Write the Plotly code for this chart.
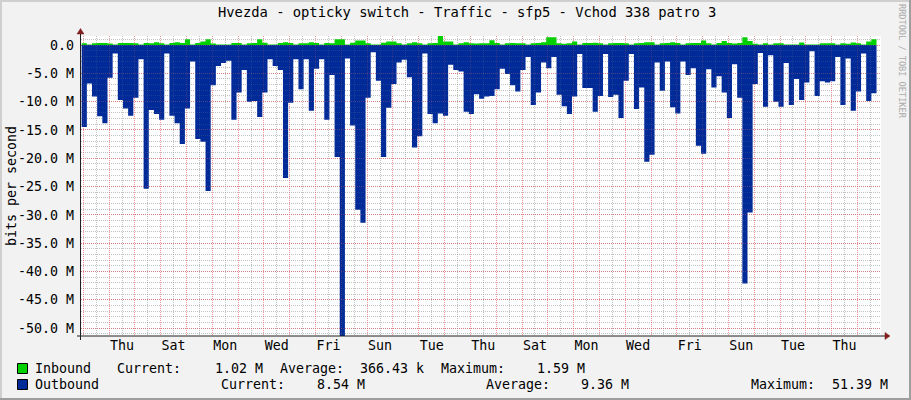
import pandas as pd
import plotly.graph_objects as go

# ---------------- data ----------------
TITLE = "Hvezda - opticky switch - Traffic - sfp5 - Vchod 338 patro 3"
Y_TITLE = "bits per second"
WATERMARK = "RRDTOOL / TOBI OETIKER"

first_bin_start = "2024-01-02 22:30"   # consolidated steps of 288 minutes
bin_minutes = 288
view_start = pd.Timestamp("2024-01-02 21:52")
view_days = 31

# outbound traffic, Mbit/s (drawn mirrored below zero)
outbound_mbps = [
    14.5, 6.8, 9.1, 12.6, 13.8, 5.8, 1.5, 9.7, 11.2, 12.5, 9.3, 2.5, 25.4, 11.5, 12.2, 13.2,
    1.5, 12.5, 13.8, 17.5, 11.2, 2.9, 16.6, 17.1, 25.8, 7.1, 3.7, 3.2, 2.8, 13.2, 8.4,
    4.4, 10.0, 9.9, 12.7, 8.4, 2.5, 3.7, 4.4, 23.5, 10.2, 2.5, 7.8, 2.5, 11.6, 4.2, 2.5,
    13.2, 5.3, 19.8, 51.39, 2.4, 14.2, 29.1, 31.4, 9.3, 1.3, 6.3, 19.8, 11.1, 6.9, 3.1,
    2.6, 5.7, 18.1, 16.1, 1.5, 12.2, 13.8, 12.1, 12.5, 3.5, 4.4, 4.7, 11.8, 12.2, 8.7, 9.5,
    9.1, 9.0, 7.8, 4.2, 5.1, 7.1, 8.2, 4.4, 2.1, 10.6, 8.4, 3.1, 4.1, 2.1, 8.8,
    10.8, 12.2, 9.1, 1.6, 7.6, 7.6, 11.8, 9.0, 1.6, 9.2, 8.8, 12.9, 6.3, 1.6, 11.3, 7.5,
    20.6, 19.4, 3.1, 8.1, 2.9, 11.0, 12.1, 2.9, 5.3, 4.1, 17.8, 19.2, 4.3, 7.5, 5.5,
    8.4, 12.9, 3.4, 9.3, 42.1, 29.6, 6.9, 1.4, 10.9, 1.8, 10.0, 10.9, 3.2, 10.6, 6.0, 9.7,
    6.6, 1.1, 9.0, 6.4, 6.6, 6.4, 2.1, 10.6, 2.4, 11.6, 8.2, 1.5, 9.9, 8.54,
]

# inbound traffic, Mbit/s
inbound_mbps = [
    0.3, 0.1, 0.3, 0.35, 0.35, 0.25, 0.1, 0.35, 0.35, 0.35, 0.3, 0.1, 0.35, 0.3, 0.5, 0.3,
    0.1, 0.35, 0.5, 0.35, 1.0, 0.1, 0.35, 0.6, 1.0, 0.25, 0.1, 0.1, 0.1, 0.35, 0.35,
    0.1, 0.3, 0.35, 1.0, 0.4, 0.1, 0.1, 0.35, 0.5, 0.35, 0.1, 0.3, 0.3, 0.5, 0.35, 0.1,
    0.35, 0.3, 1.0, 1.0, 0.1, 0.4, 0.8, 0.8, 0.3, 0.1, 0.1, 0.4, 0.6, 0.6, 0.3,
    0.1, 0.3, 0.5, 0.3, 0.1, 0.3, 0.35, 1.59, 0.6, 0.6, 0.1, 0.3, 0.5, 0.3, 0.25, 0.3,
    0.3, 0.85, 0.35, 0.1, 0.3, 0.35, 0.3, 0.3, 0.1, 0.3, 0.35, 0.5, 1.35, 1.35, 0.3,
    0.2, 0.3, 0.6, 0.1, 0.35, 0.35, 0.4, 0.3, 0.1, 0.3, 0.35, 0.35, 0.3, 0.1, 0.3, 0.35,
    0.5, 0.5, 0.1, 0.3, 0.35, 0.5, 0.35, 0.1, 0.3, 0.35, 0.35, 0.8, 0.3, 0.1, 0.35,
    0.7, 0.35, 0.25, 0.35, 1.35, 0.7, 0.2, 0.1, 0.3, 0.1, 0.3, 0.3, 0.1, 0.1, 0.1, 0.45,
    0.1, 0.1, 0.1, 0.3, 0.3, 0.3, 0.1, 0.3, 0.2, 0.45, 0.3, 0.1, 0.6, 1.02,
]

y_range_mbps = [-51.39, 1.59]
y_tick_values_mbps = [0, -5, -10, -15, -20, -25, -30, -35, -40, -45, -50]
y_tick_labels = ["0.0", "-5.0 M", "-10.0 M", "-15.0 M", "-20.0 M", "-25.0 M",
                 "-30.0 M", "-35.0 M", "-40.0 M", "-45.0 M", "-50.0 M"]

legend_names = ["Inbound", "Outbound"]
stat_labels = ["Current:", "Average:", "Maximum:"]
inbound_stats = ["1.02 M", "366.43 k", "1.59 M"]
outbound_stats = ["8.54 M", "9.36 M", "51.39 M"]

# ---------------- style ----------------
W, H = 911, 400
ML, MR, MT, MB = 81, 30, 36, 64
PW, PH = W - ML - MR, H - MT - MB
GREEN = "#00CF00"
BLUE = "#002A97"
BACK = "#F2F2F2"
GRID = "rgba(143,143,143,0.5)"
MGRID = "rgba(222,79,79,0.5)"
GRID_OVER = "rgba(160,160,160,0.16)"
MGRID_OVER = "rgba(240,90,90,0.22)"
AXIS = "#1F1F1F"
ARROW = "#801F1F"
FONT = "DejaVu Sans Mono"
FS = 13.3


def px(x):
    return (x - ML) / PW


def py(y):
    return (H - MB - y) / PH


n = len(outbound_mbps)
edges = pd.date_range(first_bin_start, periods=n + 1, freq=f"{bin_minutes}min")
out_y = [-v * 1e6 for v in outbound_mbps] + [-outbound_mbps[-1] * 1e6]
in_y = [v * 1e6 for v in inbound_mbps] + [inbound_mbps[-1] * 1e6]
x_range = [view_start, view_start + pd.Timedelta(days=view_days)]
y_range = [v * 1e6 for v in y_range_mbps]

fig = go.Figure()
fig.add_trace(go.Scatter(x=edges, y=out_y, mode="lines", line=dict(width=0, shape="hv"),
                         fill="tozeroy", fillcolor=BLUE, hoverinfo="skip", showlegend=False))
fig.add_trace(go.Scatter(x=edges, y=in_y, mode="lines", line=dict(width=0, shape="hv"),
                         fill="tozeroy", fillcolor=GREEN, hoverinfo="skip", showlegend=False))
# empty trace that carries a faint grid subplot drawn above the data, like rrdtool
fig.add_trace(go.Scatter(x=[], y=[], xaxis="x2", yaxis="y2", showlegend=False))

tickfont = dict(family=FONT, size=FS, color="#000000")


def xgrid(major, minor, labels):
    return dict(type="date", range=x_range, domain=[0, 1],
                tick0="2024-01-04", dtick=86400000, tickformat="%a",
                ticklabelmode="period", ticklabelstep=2, showticklabels=labels,
                showgrid=True, gridcolor=major, griddash="1px,1px", gridwidth=1,
                zeroline=False, showline=False, ticks="", tickfont=tickfont,
                minor=dict(tick0="2024-01-03", dtick=43200000, showgrid=True,
                           gridcolor=minor, griddash="1px,1px", gridwidth=1))


def ygrid(major, minor, labels):
    return dict(range=y_range, domain=[0, 1],
                tickmode="array", tickvals=[v * 1e6 for v in y_tick_values_mbps],
                ticktext=y_tick_labels, ticklabelstandoff=6, showticklabels=labels,
                showgrid=True, gridcolor=major, griddash="1px,1px", gridwidth=1,
                zeroline=False, showline=False, ticks="", tickfont=tickfont,
                minor=dict(tickmode="linear", tick0=0, dtick=1e6, showgrid=True,
                           gridcolor=minor, griddash="1px,1px", gridwidth=1))


fig.update_layout(
    width=W, height=H, autosize=False,
    margin=dict(l=ML, r=MR, t=MT, b=MB, pad=0),
    paper_bgcolor=BACK, plot_bgcolor="rgba(0,0,0,0)",
    showlegend=False,
    xaxis=xgrid(MGRID, GRID, True),
    yaxis=ygrid(MGRID, GRID, True),
    xaxis2=dict(xgrid(MGRID_OVER, GRID_OVER, False), anchor="y2"),
    yaxis2=dict(ygrid(MGRID_OVER, GRID_OVER, False), anchor="x2"),
)

shapes = [
    # white canvas beneath everything
    dict(type="rect", xref="paper", yref="paper", x0=0, x1=1, y0=0, y1=1,
         fillcolor="#FFFFFF", line=dict(width=0), layer="below"),
    # axes
    dict(type="line", xref="paper", yref="paper", x0=px(77), x1=px(886), y0=py(336), y1=py(336),
         line=dict(color=AXIS, width=1), layer="above"),
    dict(type="line", xref="paper", yref="paper", x0=px(80.5), x1=px(80.5), y0=py(340), y1=py(31),
         line=dict(color=AXIS, width=1), layer="above"),
    # arrows
    dict(type="path", xref="paper", yref="paper",
         path=f"M {px(885)},{py(332.5)} L {px(890)},{py(336)} L {px(885)},{py(339.5)} Z",
         fillcolor=ARROW, line=dict(color=ARROW, width=0.5), layer="above"),
    dict(type="path", xref="paper", yref="paper",
         path=f"M {px(77)},{py(34)} L {px(80.5)},{py(28.5)} L {px(84)},{py(34)} Z",
         fillcolor=ARROW, line=dict(color=ARROW, width=0.5), layer="above"),
    # legend colour boxes
    dict(type="rect", xref="paper", yref="paper", x0=px(17.5), x1=px(27.5), y0=py(373.5), y1=py(363.5),
         fillcolor=GREEN, line=dict(color="#000000", width=1)),
    dict(type="rect", xref="paper", yref="paper", x0=px(17.5), x1=px(27.5), y0=py(389.5), y1=py(379.5),
         fillcolor=BLUE, line=dict(color="#000000", width=1)),
    # image frame shading
    dict(type="rect", xref="paper", yref="paper", x0=px(0), x1=px(W), y0=py(0), y1=py(2),
         fillcolor="#CFCFCF", line=dict(width=0)),
    dict(type="rect", xref="paper", yref="paper", x0=px(0), x1=px(2), y0=py(0), y1=py(H),
         fillcolor="#CFCFCF", line=dict(width=0)),
    dict(type="rect", xref="paper", yref="paper", x0=px(0), x1=px(W), y0=py(H - 2), y1=py(H),
         fillcolor="#9E9E9E", line=dict(width=0)),
    dict(type="rect", xref="paper", yref="paper", x0=px(W - 2), x1=px(W), y0=py(0), y1=py(H),
         fillcolor="#9E9E9E", line=dict(width=0)),
]
fig.update_layout(shapes=shapes)

ann = []


def text(t, x, y, size=FS, color="#000000", anchor="left", angle=0):
    ann.append(dict(text=t, xref="paper", yref="paper", x=px(x), y=py(y), xanchor=anchor,
                    yanchor="middle", showarrow=False, textangle=angle, borderpad=0,
                    font=dict(family=FONT, size=size, color=color)))


text(TITLE, 467, 12.5, size=13.8, anchor="center")
text(Y_TITLE, 11, 186, anchor="center", angle=-90)
text(WATERMARK, 902, 61, size=8.6, color="#ABABAB", anchor="center", angle=90)

line1_x = [116, 279, 440]
line1_v = [214, 359, 536]
line2_x = [220, 485, 750]
line2_v = [316, 580, 831]
text(legend_names[0], 34, 368.5)
for lab, xs, xv, val in zip(stat_labels, line1_x, line1_v, inbound_stats):
    text(lab, xs, 368.5)
    text(val, xv, 368.5)
text(legend_names[1], 34, 384.5)
for lab, xs, xv, val in zip(stat_labels, line2_x, line2_v, outbound_stats):
    text(lab, xs, 384.5)
    text(val, xv, 384.5)

fig.update_layout(annotations=ann)
fig.write_html(
    "out.html",
    config={"displayModeBar": False, "staticPlot": True},
    post_script="document.body.style.margin='0';document.body.style.padding='0';"
                "document.documentElement.style.overflow='hidden';",
)
